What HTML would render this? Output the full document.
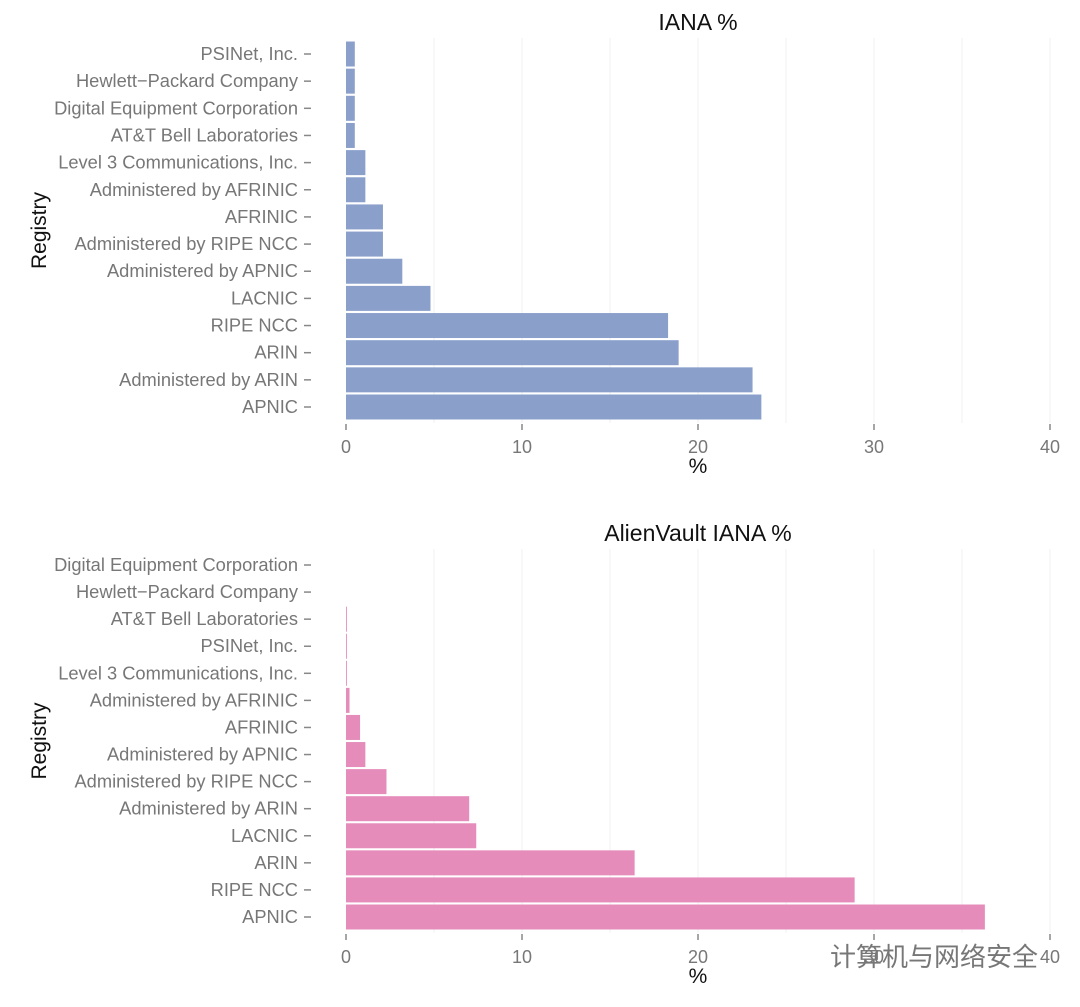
<!DOCTYPE html>
<html><head><meta charset="utf-8"><style>
body{margin:0;background:#fff;width:1080px;height:1002px;overflow:hidden}
svg{font-family:"Liberation Sans","Noto Sans CJK SC",sans-serif}
</style></head><body>
<svg id="c" width="1080" height="1002"></svg>
<script>
const topCats=["PSINet, Inc.","Hewlett−Packard Company","Digital Equipment Corporation","AT&T Bell Laboratories","Level 3 Communications, Inc.","Administered by AFRINIC","AFRINIC","Administered by RIPE NCC","Administered by APNIC","LACNIC","RIPE NCC","ARIN","Administered by ARIN","APNIC"];
const topVals=[0.5,0.5,0.5,0.5,1.1,1.1,2.1,2.1,3.2,4.8,18.3,18.9,23.1,23.6];
const botCats=["Digital Equipment Corporation","Hewlett−Packard Company","AT&T Bell Laboratories","PSINet, Inc.","Level 3 Communications, Inc.","Administered by AFRINIC","AFRINIC","Administered by APNIC","Administered by RIPE NCC","Administered by ARIN","LACNIC","ARIN","RIPE NCC","APNIC"];
const botVals=[0,0,0.05,0.05,0.05,0.2,0.8,1.1,2.3,7.0,7.4,16.4,28.9,36.3];
const xTicks=[0,10,20,30,40];
const NS="http://www.w3.org/2000/svg";
const svg=document.getElementById('c');
function mk(t,a,p){const e=document.createElementNS(NS,t);for(const k in a)e.setAttribute(k,a[k]);(p||svg).appendChild(e);return e;}
function panel(title,cats,vals,y0,y1,color,key){
  const g=mk('g',{});
  
  
  const x=v=>346+v*17.6;
  const step=(y1-y0)/(cats.length-1);
  const y=i=>y0+i*step;
  for(let v=5;v<=40;v+=5){const l=mk('line',{x1:x(v),x2:x(v),y1:y0-16,y2:y1+16,stroke:'#f0f0f0','stroke-width':1},g);
    }
  cats.forEach((c,i)=>{
    const t=mk('text',{x:298,y:y(i)+6,'text-anchor':'end','font-size':18.3,fill:'#777'},g);t.textContent=c;
    
    const tk=mk('line',{x1:304,x2:311,y1:y(i),y2:y(i),stroke:'#888','stroke-width':1.5},g);
    
    if(vals[i]>0){const r=mk('rect',{x:x(0),y:y(i)-12.5,width:x(vals[i])-x(0),height:25,fill:color},g);
      }
  });
  xTicks.forEach(v=>{
    const tk=mk('line',{x1:x(v),x2:x(v),y1:y1+17,y2:y1+23,stroke:'#888','stroke-width':1.5},g);
    
    const t=mk('text',{x:x(v),y:y1+46,'text-anchor':'middle','font-size':18,fill:'#777'},g);t.textContent=v;
    
  });
  const tt=mk('text',{x:698,y:y0-24,'text-anchor':'middle','font-size':23,fill:'#111'},g);tt.textContent=title;
  
  const xt=mk('text',{x:698,y:y1+66,'text-anchor':'middle','font-size':21,fill:'#111'},g);xt.textContent='%';
  
  const cy=(y0+y1)/2;
  const yt=mk('text',{x:46,y:cy,'text-anchor':'middle','font-size':21,fill:'#111',transform:`rotate(-90 46 ${cy})`},g);yt.textContent='Registry';
  
}
panel('IANA %',topCats,topVals,54,407,'#8aa0cb','iana');
panel('AlienVault IANA %',botCats,botVals,565,917,'#e58cbb','alienvault');
const wm=mk('text',{x:830,y:966,'font-size':26,fill:'#777'});wm.textContent='计算机与网络安全';

</script>
</body></html>
